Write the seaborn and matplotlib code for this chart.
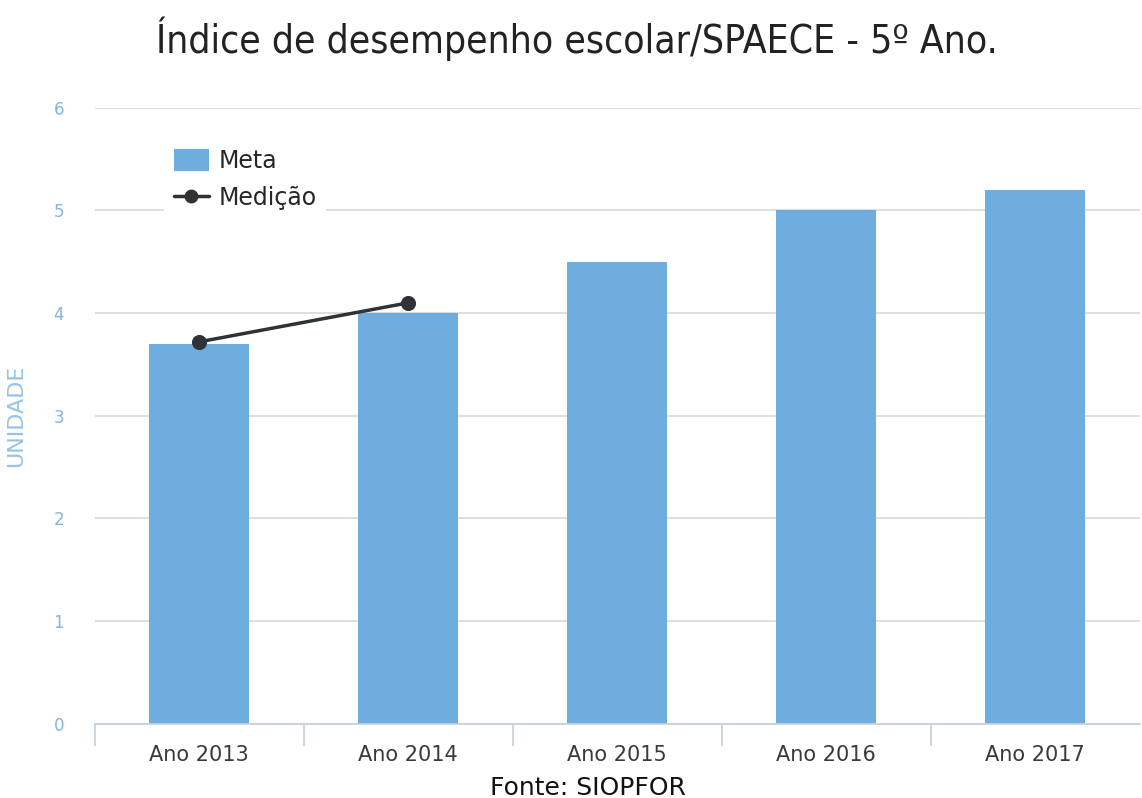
import pandas as pd
import seaborn as sns
import matplotlib.pyplot as plt
from matplotlib.lines import Line2D
from matplotlib.patches import Patch

anos = ["Ano 2013", "Ano 2014", "Ano 2015", "Ano 2016", "Ano 2017"]
meta = [3.7, 4.0, 4.5, 5.0, 5.2]
anos_medicao = ["Ano 2013", "Ano 2014"]
medicao = [3.72, 4.1]

df_meta = pd.DataFrame({"ano": anos, "valor": meta})
df_med = pd.DataFrame({"ano": anos_medicao, "valor": medicao})

sns.set_style("white")
plt.rcParams["font.family"] = ["DejaVu Sans"]

fig = plt.figure(figsize=(11.42, 7.98), dpi=100)
ax = fig.add_axes([0.083, 0.093, 0.915, 0.772])

sns.barplot(data=df_meta, x="ano", y="valor", order=anos, color="#6fadde",
            width=0.48, saturation=1, linewidth=0, ax=ax, zorder=2)
sns.pointplot(data=df_med, x="ano", y="valor", order=anos, color="#2f3337",
              markers="o", markersize=9, linewidth=2.5, ax=ax, zorder=3)

ax.set_ylim(0, 6)
ax.set_xlim(-0.5, 4.5)
ax.set_yticks(range(0, 7))
ax.grid(axis="y", color="#d9d9d9", linewidth=1.2, zorder=0)
ax.set_axisbelow(True)
for s in ["top", "right", "left"]:
    ax.spines[s].set_visible(False)
ax.spines["bottom"].set_color("#c5d3df")
ax.spines["bottom"].set_linewidth(1.3)

# marcas entre as categorias, no eixo x
ax.set_xticks([-0.5, 0.5, 1.5, 2.5, 3.5], minor=True)
ax.tick_params(axis="x", which="minor", bottom=True, length=16, width=1.3,
               color="#c5d3df")
ax.tick_params(axis="x", which="major", length=0, pad=15, labelsize=15,
               labelcolor="#3a3a3a")
ax.tick_params(axis="y", length=0, pad=22, labelsize=12, labelcolor="#82b6df")

ax.set_xlabel("")
ax.set_ylabel("UNIDADE", fontsize=16, color="#95c4e8", labelpad=20)

handles = [Patch(facecolor="#6fadde", edgecolor="none"),
           Line2D([0], [0], color="#2f3337", marker="o", markersize=9, linewidth=2.5)]
leg = ax.legend(handles, ["Meta", "Medição"], loc="upper left",
                bbox_to_anchor=(0.055, 0.968), fontsize=17, frameon=True,
                framealpha=1, edgecolor="white", handlelength=1.5,
                handleheight=1.1, handletextpad=0.4, labelspacing=0.55,
                borderpad=0.4)
leg.get_frame().set_linewidth(0)

fig.text(0.505, 0.952, "Índice de desempenho escolar/SPAECE - 5º Ano.",
         ha="center", va="center", fontsize=28, color="#222222",
         fontstretch="condensed")
fig.text(0.515, 0.0125, "Fonte: SIOPFOR", ha="center", va="center",
         fontsize=18, color="#111111")

fig.savefig("out.png", dpi=100)
